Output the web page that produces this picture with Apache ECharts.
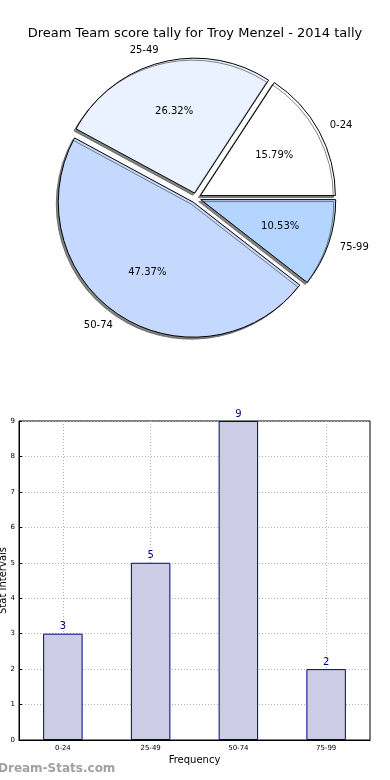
<!DOCTYPE html>
<html>
<head>
<meta charset="utf-8">
<script src="https://cdn.jsdelivr.net/npm/echarts@6/dist/echarts.min.js"></script>
<style>
html,body{margin:0;padding:0;background:#fff;}
#chart{width:390px;height:780px;}
</style>
</head>
<body>
<div id="chart"></div>
<script>
var titleText = 'Dream Team score tally for Troy Menzel - 2014 tally';
var categories = ['0-24', '25-49', '50-74', '75-99'];
var counts = [3, 5, 9, 2];
var sliceColors = ['#ffffff', '#ebf2ff', '#c5d9ff', '#b3d5ff'];
var yTicks = [0, 1, 2, 3, 4, 5, 6, 7, 8, 9];

var FONT = 'DejaVu Sans';
var R = 135;
var CX = 196, CY = 198;
var total = counts.reduce(function (a, b) { return a + b; }, 0);

var pieData = categories.map(function (c, i) {
  return { name: c, value: counts[i], selected: true, itemStyle: { color: sliceColors[i] } };
});
var pctData = categories.map(function (c, i) {
  return { name: c, value: counts[i], selected: true };
});

var chart = echarts.init(document.getElementById('chart'), null, { renderer: 'canvas' });
chart.setOption({
  animation: false,
  backgroundColor: '#fff',
  textStyle: { fontFamily: FONT },
  title: {
    text: titleText,
    left: 'center',
    top: 22,
    textStyle: { fontFamily: FONT, fontSize: 13, fontWeight: 'normal', color: '#000' }
  },
  graphic: [{
    type: 'text',
    left: -2,
    top: 763,
    style: { text: 'Dream-Stats.com', fontFamily: FONT, fontSize: 12, fontWeight: 'bold', fill: '#a0a0a0' }
  }],
  grid: {
    left: 19, right: 20, top: 421, bottom: 40,
    containLabel: false,
    outerBoundsMode: 'none',
    show: true, borderColor: '#000', borderWidth: 1, backgroundColor: 'transparent'
  },
  xAxis: {
    type: 'category',
    data: categories,
    name: 'Frequency',
    nameLocation: 'middle',
    nameGap: 15,
    nameMoveOverlap: false,
    nameTextStyle: { fontFamily: FONT, fontSize: 10, color: '#000' },
    axisLine: { lineStyle: { color: '#000', width: 1 } },
    axisTick: { show: true, alignWithLabel: true, inside: true, length: 3, lineStyle: { color: '#000' } },
    axisLabel: { fontFamily: FONT, fontSize: 7, color: '#000', margin: 5 },
    splitLine: { show: true, alignWithLabel: true, lineStyle: { color: '#b0b0b0', type: [1, 2], width: 1 } }
  },
  yAxis: {
    type: 'value',
    min: yTicks[0],
    max: yTicks[yTicks.length - 1],
    interval: 1,
    name: 'Stat Intervals',
    nameLocation: 'middle',
    nameRotate: 90,
    nameGap: 11,
    nameMoveOverlap: false,
    nameTextStyle: { fontFamily: FONT, fontSize: 10, color: '#000' },
    axisLine: { show: true, lineStyle: { color: '#000', width: 1 } },
    axisTick: { show: true, inside: true, length: 3, lineStyle: { color: '#000' } },
    axisLabel: { fontFamily: FONT, fontSize: 7, color: '#000', margin: 4 },
    splitLine: { show: true, lineStyle: { color: '#b0b0b0', type: [1, 2], width: 1 } }
  },
  series: [
    {
      type: 'pie',
      center: [CX, CY],
      radius: R,
      startAngle: 0,
      clockwise: false,
      selectedMode: 'multiple',
      selectedOffset: 5,
      avoidLabelOverlap: false,
      data: pieData,
      itemStyle: {
        borderColor: '#000', borderWidth: 1,
        shadowColor: 'rgba(80,80,80,0.7)', shadowBlur: 0, shadowOffsetX: -2, shadowOffsetY: 2
      },
      label: {
        show: true, position: 'outside', formatter: '{b}',
        fontFamily: FONT, fontSize: 10, color: '#000', distanceToLabelLine: 0, alignTo: 'none'
      },
      labelLine: { show: false, length: 12, length2: 0 },
      emphasis: { disabled: true },
      z: 2
    },
    {
      type: 'pie',
      center: [CX, CY],
      radius: R * 1.2,
      startAngle: 0,
      clockwise: false,
      selectedMode: 'multiple',
      selectedOffset: 5,
      silent: true,
      data: pctData,
      itemStyle: { color: 'rgba(0,0,0,0)', borderWidth: 0 },
      label: {
        show: true, position: 'inside',
        formatter: function (p) { return (p.value / total * 100).toFixed(2) + '%'; },
        fontFamily: FONT, fontSize: 10, color: '#000'
      },
      labelLine: { show: false },
      emphasis: { disabled: true },
      z: 3
    },
    {
      type: 'bar',
      data: counts,
      barWidth: '45%',
      itemStyle: { color: '#ccccE6', borderColor: '#000080', borderWidth: 1 },
      label: { show: true, position: 'top', distance: 2, fontFamily: FONT, fontSize: 10, color: '#000080' },
      emphasis: { disabled: true }
    }
  ]
});
</script>
</body>
</html>
